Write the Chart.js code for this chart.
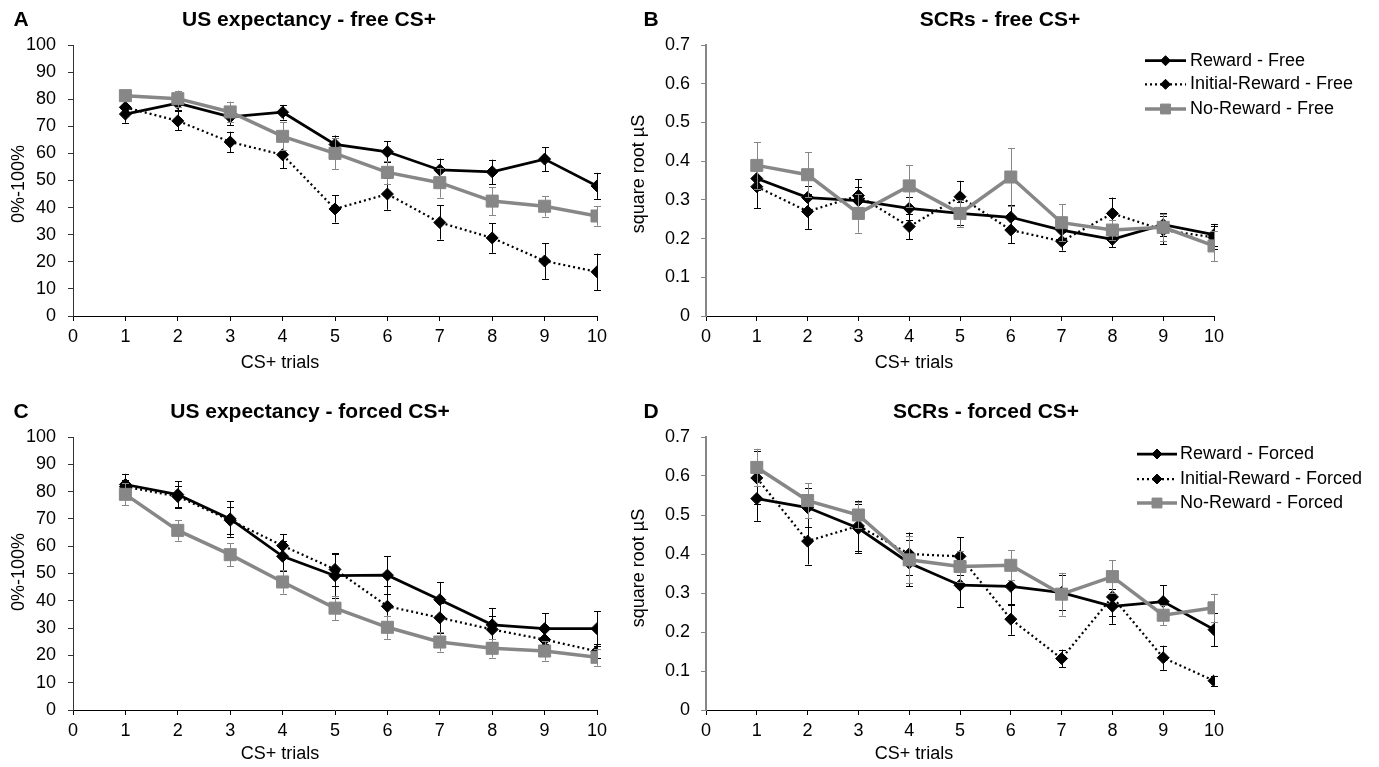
<!DOCTYPE html>
<html>
<head>
<meta charset="utf-8">
<script src="https://cdn.jsdelivr.net/npm/chart.js@4.4.1/dist/chart.umd.min.js"></script>
<style>
  html, body { margin: 0; padding: 0; background: #fff; }
  #wrap { position: relative; width: 1379px; height: 767px; overflow: hidden; background: #fff; }
  canvas { position: absolute; }
</style>
</head>
<body>
<div id="wrap">
  <canvas id="cA" width="615" height="383" style="left:0px;top:0px;"></canvas>
  <canvas id="cB" width="760" height="383" style="left:620px;top:0px;"></canvas>
  <canvas id="cC" width="615" height="375" style="left:0px;top:392px;"></canvas>
  <canvas id="cD" width="760" height="375" style="left:620px;top:392px;"></canvas>
</div>
<script>
// ---------------- DATA ----------------
const trials = [1, 2, 3, 4, 5, 6, 7, 8, 9, 10];

const expFreeReward     = [74.5, 78.5, 73.5, 75.2, 63.3, 60.6, 53.9, 53.2, 57.9, 48.0];
const expFreeRewardErr  = [3.2, 2.6, 3.0, 2.7, 3.3, 3.8, 4.2, 4.5, 4.4, 4.8];
const expFreeInit       = [77.0, 72.0, 64.2, 59.5, 39.5, 45.0, 34.5, 28.8, 20.3, 16.3];
const expFreeInitErr    = [2.5, 3.5, 3.8, 5.0, 5.0, 5.8, 6.3, 5.5, 6.6, 6.7];
const expFreeNo         = [81.3, 80.2, 75.3, 66.3, 60.0, 53.0, 49.2, 42.4, 40.5, 36.9];
const expFreeNoErr      = [2.0, 3.0, 3.8, 5.2, 5.8, 4.2, 5.5, 5.2, 3.8, 3.6];

const scrFreeReward     = [0.355, 0.306, 0.298, 0.278, 0.265, 0.255, 0.222, 0.198, 0.236, 0.210];
const scrFreeRewardErr  = [0.030, 0.030, 0.035, 0.030, 0.030, 0.033, 0.025, 0.020, 0.030, 0.028];
const scrFreeInit       = [0.334, 0.270, 0.311, 0.231, 0.308, 0.222, 0.193, 0.265, 0.222, 0.203];
const scrFreeInitErr    = [0.055, 0.045, 0.042, 0.033, 0.041, 0.034, 0.024, 0.041, 0.037, 0.030];
const scrFreeNo         = [0.389, 0.365, 0.265, 0.336, 0.265, 0.359, 0.241, 0.222, 0.229, 0.181];
const scrFreeNoErr      = [0.060, 0.058, 0.050, 0.054, 0.035, 0.074, 0.048, 0.025, 0.035, 0.039];

const expForcedReward    = [82.6, 78.9, 70.0, 56.3, 49.2, 49.4, 40.4, 31.2, 29.8, 29.8];
const expForcedRewardErr = [3.9, 4.9, 6.5, 5.5, 8.0, 7.0, 6.5, 6.2, 5.6, 6.3];
const expForcedInit      = [81.8, 78.2, 69.5, 60.2, 51.5, 38.0, 33.8, 29.5, 25.8, 21.5];
const expForcedInitErr   = [2.5, 4.0, 5.0, 4.2, 6.0, 7.5, 5.5, 5.0, 5.0, 2.5];
const expForcedNo        = [79.0, 65.8, 56.9, 46.9, 37.3, 30.3, 24.9, 22.6, 21.6, 19.3];
const expForcedNoErr     = [4.0, 3.8, 4.2, 4.3, 4.5, 4.3, 3.5, 3.4, 3.5, 3.1];

const scrForcedReward    = [0.542, 0.519, 0.466, 0.377, 0.320, 0.317, 0.301, 0.266, 0.278, 0.206];
const scrForcedRewardErr = [0.057, 0.050, 0.063, 0.060, 0.056, 0.048, 0.045, 0.045, 0.042, 0.043];
const scrForcedInit      = [0.595, 0.433, 0.472, 0.400, 0.394, 0.233, 0.132, 0.290, 0.134, 0.075];
const scrForcedInitErr   = [0.068, 0.060, 0.065, 0.055, 0.049, 0.040, 0.023, 0.050, 0.031, 0.013];
const scrForcedNo        = [0.622, 0.537, 0.500, 0.385, 0.368, 0.371, 0.297, 0.342, 0.243, 0.262];
const scrForcedNoErr     = [0.048, 0.045, 0.034, 0.060, 0.040, 0.038, 0.055, 0.042, 0.025, 0.036];

const freeLabels   = ['Reward - Free', 'Initial-Reward - Free', 'No-Reward - Free'];
const forcedLabels = ['Reward - Forced', 'Initial-Reward - Forced', 'No-Reward - Forced'];

const panelLetters = ['A', 'B', 'C', 'D'];
const panelTitles  = ['US expectancy - free CS+', 'SCRs - free CS+', 'US expectancy - forced CS+', 'SCRs - forced CS+'];
const xAxisTitle   = 'CS+ trials';
const yTitleExp    = '0%-100%';
const yTitleScr    = 'square root µS';

// ---------------- STYLE / PLUGINS ----------------
const FONT = '"Liberation Sans", Arial, Helvetica, sans-serif';
const GRAY = '#878787';

const errorBarsPlugin = {
  id: 'errorBars',
  beforeDatasetDraw(chart, args) {
    const ds = chart.data.datasets[args.index];
    if (!ds.errors) return;
    const ctx = chart.ctx, ys = chart.scales.y;
    ctx.save();
    ctx.strokeStyle = ds.borderColor;
    ctx.lineWidth = 1;
    ctx.setLineDash([]);
    args.meta.data.forEach((pt, i) => {
      const v = ds.data[i].y, e = ds.errors[i];
      const y1 = ys.getPixelForValue(v + e), y2 = ys.getPixelForValue(v - e);
      const x = Math.round(pt.x) + 0.5;
      ctx.beginPath();
      ctx.moveTo(x, y1); ctx.lineTo(x, y2);
      ctx.moveTo(x - 3.5, Math.round(y1) + 0.5); ctx.lineTo(x + 3.5, Math.round(y1) + 0.5);
      ctx.moveTo(x - 3.5, Math.round(y2) + 0.5); ctx.lineTo(x + 3.5, Math.round(y2) + 0.5);
      ctx.stroke();
    });
    ctx.restore();
  }
};

const textPlugin = {
  id: 'panelText',
  afterDraw(chart, args, opts) {
    const ctx = chart.ctx;
    (opts.items || []).forEach(it => {
      ctx.save();
      ctx.font = it.font;
      ctx.fillStyle = it.color || '#000';
      ctx.textAlign = 'center';
      ctx.textBaseline = 'middle';
      ctx.translate(it.x, it.y);
      if (it.rotate) ctx.rotate(it.rotate);
      ctx.fillText(it.text, 0, 0);
      ctx.restore();
    });
  }
};

const lineLegendPlugin = {
  id: 'lineLegend',
  afterDraw(chart, args, opts) {
    if (!opts.rows) return;
    const ctx = chart.ctx;
    chart.data.datasets.forEach((ds, i) => {
      const y = opts.rows[i];
      ctx.save();
      ctx.strokeStyle = ds.borderColor;
      ctx.lineWidth = ds.borderWidth;
      ctx.setLineDash(ds.borderDash || []);
      ctx.beginPath();
      ctx.moveTo(opts.x0, y); ctx.lineTo(opts.x1, y);
      ctx.stroke();
      ctx.setLineDash([]);
      ctx.fillStyle = ds.pointBackgroundColor;
      ctx.strokeStyle = ds.pointBorderColor;
      ctx.lineWidth = 1;
      Chart.helpers.drawPoint(ctx, {
        pointStyle: ds.pointStyle,
        radius: ds.pointStyle === 'rect' ? 7 : 5,
        rotation: 0,
        borderWidth: 1
      }, (opts.x0 + opts.x1) / 2, y);
      ctx.fillStyle = '#000';
      ctx.font = opts.font;
      ctx.textAlign = 'left';
      ctx.textBaseline = 'middle';
      ctx.fillText(ds.label, opts.textX, y);
      ctx.restore();
    });
  }
};

function series(label, values, errors, kind) {
  const base = {
    label,
    data: trials.map((t, i) => ({ x: t, y: values[i] })),
    errors,
    tension: 0,
    fill: false
  };
  if (kind === 'reward') {
    return Object.assign(base, {
      borderColor: '#000', backgroundColor: '#000', borderWidth: 2.75,
      pointStyle: 'rectRot', pointRadius: 6, pointBackgroundColor: '#000',
      pointBorderColor: '#000', pointBorderWidth: 1, order: 1
    });
  }
  if (kind === 'init') {
    return Object.assign(base, {
      borderColor: '#000', backgroundColor: '#000', borderWidth: 2.25, borderDash: [2, 3],
      pointStyle: 'rectRot', pointRadius: 6, pointBackgroundColor: '#000',
      pointBorderColor: '#000', pointBorderWidth: 1, order: 2
    });
  }
  return Object.assign(base, {
    borderColor: GRAY, backgroundColor: GRAY, borderWidth: 3.5,
    pointStyle: 'rect', pointRadius: 8.5, pointBackgroundColor: GRAY,
    pointBorderColor: GRAY, pointBorderWidth: 1, order: 0
  });
}

function makePanel(id, p) {
  const canvas = document.getElementById(id);
  const H = canvas.height;
  return new Chart(canvas, {
    type: 'line',
    data: { datasets: p.datasets },
    options: {
      responsive: false,
      animation: false,
      events: [],
      layout: { padding: { top: p.top, right: canvas.width - p.right, bottom: 0, left: 0 } },
      scales: {
        x: {
          type: 'linear', min: 0, max: 10,
          ticks: { stepSize: 1, font: { size: 18, family: FONT }, color: '#000', padding: 5 },
          grid: { drawOnChartArea: false, drawTicks: true, tickLength: 5, color: '#000', lineWidth: 1 },
          border: { display: true, color: '#000', width: 1 },
          afterFit: s => { s.height = H - p.bottom; }
        },
        y: {
          min: 0, max: p.yMax,
          ticks: { stepSize: p.yStep, font: { size: 18, family: FONT }, color: '#000', padding: p.yPad },
          grid: { drawOnChartArea: false, drawTicks: true, tickLength: 5, color: p.yColor, lineWidth: 1 },
          border: { display: true, color: p.yColor, width: p.yWidth },
          afterFit: s => { s.width = p.left; }
        }
      },
      plugins: {
        legend: { display: false },
        tooltip: { enabled: false },
        title: { display: false },
        panelText: { items: p.texts },
        lineLegend: p.legend || {}
      }
    },
    plugins: [errorBarsPlugin, textPlugin, lineLegendPlugin]
  });
}

const titleFont = 'bold 21px ' + FONT;
const axisFont = '18px ' + FONT;
const yTitleFont = '18px ' + FONT;
const legendFont = '18px ' + FONT;

// Panel A
makePanel('cA', {
  left: 73, right: 597, top: 45, bottom: 316, yMax: 100, yStep: 10, yPad: 12,
  yColor: '#333', yWidth: 1,
  datasets: [
    series(freeLabels[0], expFreeReward, expFreeRewardErr, 'reward'),
    series(freeLabels[1], expFreeInit, expFreeInitErr, 'init'),
    series(freeLabels[2], expFreeNo, expFreeNoErr, 'no')
  ],
  texts: [
    { text: panelLetters[0], x: 21, y: 20.5, font: titleFont },
    { text: panelTitles[0], x: 309, y: 20.5, font: titleFont },
    { text: xAxisTitle, x: 280, y: 363, font: axisFont },
    { text: yTitleExp, x: 19, y: 184, font: yTitleFont, rotate: -Math.PI / 2 }
  ]
});

// Panel B
makePanel('cB', {
  left: 86, right: 594, top: 45, bottom: 316, yMax: 0.7, yStep: 0.1, yPad: 11,
  yColor: '#868686', yWidth: 2,
  datasets: [
    series(freeLabels[0], scrFreeReward, scrFreeRewardErr, 'reward'),
    series(freeLabels[1], scrFreeInit, scrFreeInitErr, 'init'),
    series(freeLabels[2], scrFreeNo, scrFreeNoErr, 'no')
  ],
  legend: { x0: 525, x1: 566, textX: 570, rows: [60.7, 84.3, 109], font: legendFont },
  texts: [
    { text: panelLetters[1], x: 31, y: 20.5, font: titleFont },
    { text: panelTitles[1], x: 380, y: 20.5, font: titleFont },
    { text: xAxisTitle, x: 294, y: 363, font: axisFont },
    { text: yTitleScr, x: 19, y: 174, font: yTitleFont, rotate: -Math.PI / 2 }
  ]
});

// Panel C
makePanel('cC', {
  left: 73, right: 597, top: 45, bottom: 318, yMax: 100, yStep: 10, yPad: 12,
  yColor: '#333', yWidth: 1,
  datasets: [
    series(forcedLabels[0], expForcedReward, expForcedRewardErr, 'reward'),
    series(forcedLabels[1], expForcedInit, expForcedInitErr, 'init'),
    series(forcedLabels[2], expForcedNo, expForcedNoErr, 'no')
  ],
  texts: [
    { text: panelLetters[2], x: 21, y: 20.5, font: titleFont },
    { text: panelTitles[2], x: 310, y: 20.5, font: titleFont },
    { text: xAxisTitle, x: 280, y: 362, font: axisFont },
    { text: yTitleExp, x: 19, y: 180, font: yTitleFont, rotate: -Math.PI / 2 }
  ]
});

// Panel D
makePanel('cD', {
  left: 86, right: 594, top: 45, bottom: 318, yMax: 0.7, yStep: 0.1, yPad: 11,
  yColor: '#868686', yWidth: 2,
  datasets: [
    series(forcedLabels[0], scrForcedReward, scrForcedRewardErr, 'reward'),
    series(forcedLabels[1], scrForcedInit, scrForcedInitErr, 'init'),
    series(forcedLabels[2], scrForcedNo, scrForcedNoErr, 'no')
  ],
  legend: { x0: 517, x1: 557, textX: 560, rows: [62, 87, 111], font: legendFont },
  texts: [
    { text: panelLetters[3], x: 31, y: 20.5, font: titleFont },
    { text: panelTitles[3], x: 366, y: 20.5, font: titleFont },
    { text: xAxisTitle, x: 294, y: 362, font: axisFont },
    { text: yTitleScr, x: 19, y: 176, font: yTitleFont, rotate: -Math.PI / 2 }
  ]
});
</script>
</body>
</html>
